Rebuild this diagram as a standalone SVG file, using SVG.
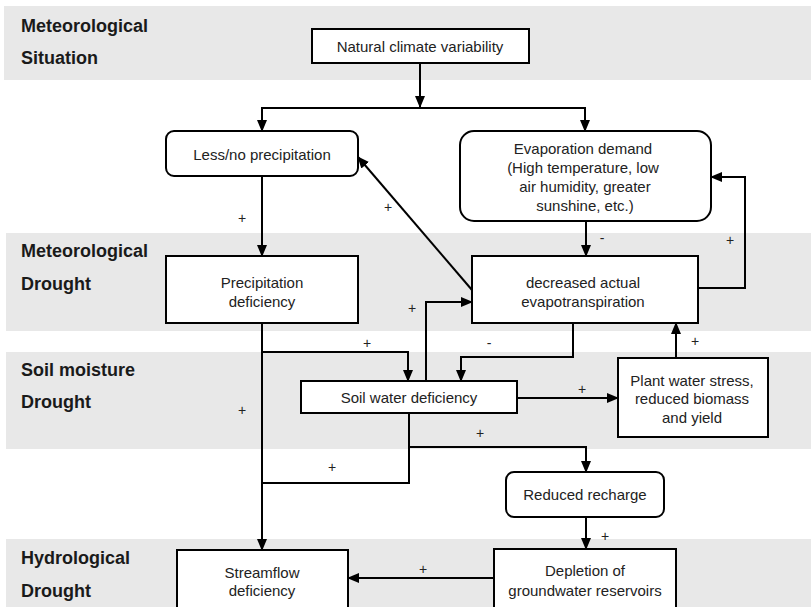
<svg xmlns="http://www.w3.org/2000/svg" width="811" height="607" viewBox="0 0 811 607">
<style>
.band{fill:#e8e8e8}
.lbl{font-family:"Liberation Sans",Arial,sans-serif;font-size:18px;font-weight:bold;fill:#1a1a1a}
.box{fill:#fff;stroke:#000;stroke-width:2}
.t{font-family:"Liberation Sans",Arial,sans-serif;font-size:15px;fill:#222;text-anchor:middle;dominant-baseline:central}
.c{fill:none;stroke:#000;stroke-width:2}
.s{font-family:"Liberation Sans",Arial,sans-serif;font-size:14px;fill:#222;text-anchor:middle;dominant-baseline:central}
</style>
<defs>
<marker id="ah" markerUnits="userSpaceOnUse" markerWidth="12" markerHeight="12" viewBox="0 0 12 12" refX="11" refY="6" orient="auto">
<path d="M0,1 L12,6 L0,11 Z" fill="#000"/>
</marker>
</defs>
<g id="bands">
<rect class="band" x="4" y="6" width="807" height="74"/>
<rect class="band" x="6" y="233" width="805" height="98"/>
<rect class="band" x="6" y="352" width="805" height="97"/>
<rect class="band" x="6" y="539" width="805" height="68"/>
<text class="lbl" x="21" y="26" dominant-baseline="central">Meteorological</text>
<text class="lbl" x="21" y="58" dominant-baseline="central">Situation</text>
<text class="lbl" x="21" y="251" dominant-baseline="central">Meteorological</text>
<text class="lbl" x="21" y="284" dominant-baseline="central">Drought</text>
<text class="lbl" x="21" y="370" dominant-baseline="central">Soil moisture</text>
<text class="lbl" x="21" y="402" dominant-baseline="central">Drought</text>
<text class="lbl" x="21" y="558" dominant-baseline="central">Hydrological</text>
<text class="lbl" x="21" y="591" dominant-baseline="central">Drought</text>
</g>
<g id="connectors">
<path class="c" d="M420,63 V107" marker-end="url(#ah)"/>
<path class="c" d="M262,131 V108 H585 V131" />
<path class="c" d="M262,108 V131" marker-end="url(#ah)"/>
<path class="c" d="M585,108 V131" marker-end="url(#ah)"/>
<path class="c" d="M262,176 V256" marker-end="url(#ah)"/>
<text class="s" x="242" y="218">+</text>
<path class="c" d="M586,221 V256" marker-end="url(#ah)"/>
<text class="s" x="602" y="238">-</text>
<path class="c" d="M472,290 L358,157" marker-end="url(#ah)"/>
<text class="s" x="388" y="207">+</text>
<path class="c" d="M698,288 H745 V177 H711" marker-end="url(#ah)"/>
<text class="s" x="730" y="240">+</text>
<path class="c" d="M262,323 V550" marker-end="url(#ah)"/>
<text class="s" x="242" y="410">+</text>
<path class="c" d="M262,352 H408 V381" marker-end="url(#ah)"/>
<text class="s" x="367" y="343">+</text>
<path class="c" d="M426,381 V302 H472" marker-end="url(#ah)"/>
<text class="s" x="412" y="308">+</text>
<path class="c" d="M573,323 V357 H461 V381" marker-end="url(#ah)"/>
<text class="s" x="489" y="343">-</text>
<path class="c" d="M517,398 H618" marker-end="url(#ah)"/>
<text class="s" x="582" y="389">+</text>
<path class="c" d="M676,358 V323" marker-end="url(#ah)"/>
<text class="s" x="695" y="341">+</text>
<path class="c" d="M409,413 V447 H586 V472" marker-end="url(#ah)"/>
<text class="s" x="480" y="433">+</text>
<path class="c" d="M409,447 V483 H262"/>
<text class="s" x="332" y="467">+</text>
<path class="c" d="M586,517 V549" marker-end="url(#ah)"/>
<text class="s" x="605" y="536">+</text>
<path class="c" d="M494,578 H348" marker-end="url(#ah)"/>
<text class="s" x="423" y="569">+</text>
</g>
<g id="natural">
<rect class="box" x="312" y="29" width="217" height="34"/>
<text class="t" x="420" y="46">Natural climate variability</text>
</g>
<g id="lessprecip">
<rect class="box" x="166" y="131" width="192" height="45" rx="8"/>
<text class="t" x="262" y="154">Less/no precipitation</text>
</g>
<g id="evapdemand">
<rect class="box" x="460" y="131" width="251" height="90" rx="14"/>
<text class="t" x="583" y="148">Evaporation demand</text>
<text class="t" x="583" y="167">(High temperature, low</text>
<text class="t" x="585" y="186">air humidity, greater</text>
<text class="t" x="585" y="205">sunshine, etc.)</text>
</g>
<g id="precipdef">
<rect class="box" x="166" y="256" width="192" height="67"/>
<text class="t" x="262" y="282">Precipitation</text>
<text class="t" x="262" y="301">deficiency</text>
</g>
<g id="decreasedet">
<rect class="box" x="472" y="256" width="226" height="67"/>
<text class="t" x="583" y="282">decreased actual</text>
<text class="t" x="583" y="301">evapotranspiration</text>
</g>
<g id="soilwater">
<rect class="box" x="301" y="381" width="216" height="32"/>
<text class="t" x="409" y="397">Soil water deficiency</text>
</g>
<g id="plantstress">
<rect class="box" x="618" y="358" width="150" height="79"/>
<text class="t" x="692" y="380">Plant water stress,</text>
<text class="t" x="692" y="398">reduced biomass</text>
<text class="t" x="692" y="417">and yield</text>
</g>
<g id="recharge">
<rect class="box" x="506" y="472" width="158" height="45" rx="8"/>
<text class="t" x="585" y="494">Reduced recharge</text>
</g>
<g id="streamflow">
<rect class="box" x="177" y="550" width="171" height="64"/>
<text class="t" x="262" y="572">Streamflow</text>
<text class="t" x="262" y="590">deficiency</text>
</g>
<g id="depletion">
<rect class="box" x="494" y="549" width="182" height="65"/>
<text class="t" x="585" y="570">Depletion of</text>
<text class="t" x="585" y="590">groundwater reservoirs</text>
</g>
</svg>
